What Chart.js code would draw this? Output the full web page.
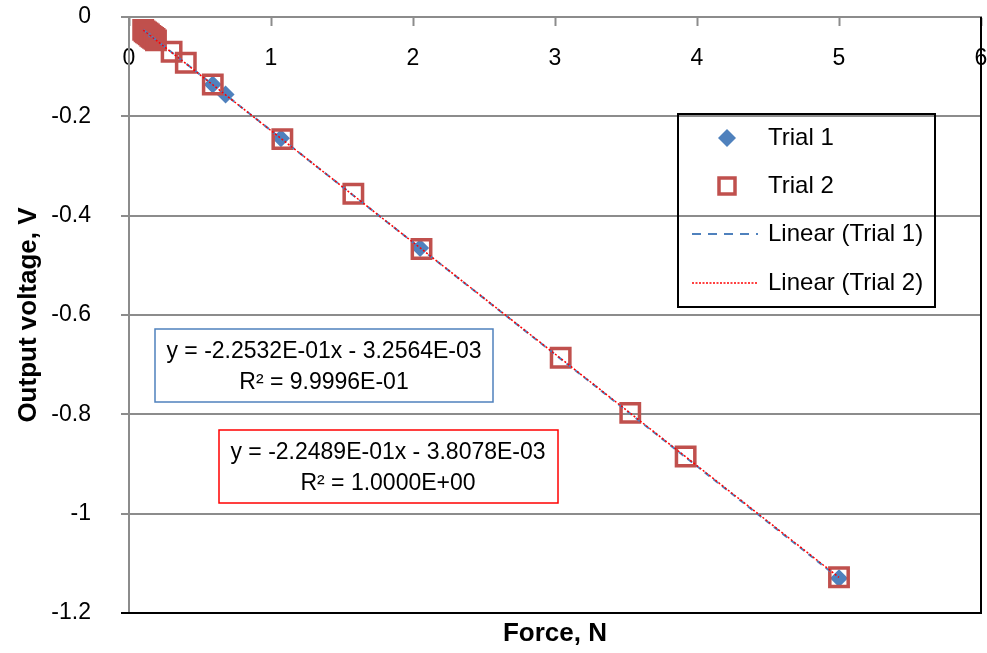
<!DOCTYPE html>
<html>
<head>
<meta charset="utf-8">
<script src="https://cdn.jsdelivr.net/npm/chart.js@4.4.1/dist/chart.umd.min.js"></script>
<style>
  html, body { margin: 0; padding: 0; background: #fff; }
  #wrap { width: 987px; height: 653px; }
</style>
</head>
<body>
<div id="wrap"><canvas id="js-chart-force" width="987" height="653"></canvas></div>
<script>
// Chart data
const trial1X = [0.10, 0.13, 0.16, 0.59, 0.68, 1.07, 2.05, 5.00];
const trial1Y = [-0.026, -0.033, -0.039, -0.136, -0.156, -0.244, -0.465, -1.130];
const trial2X = [0.10, 0.11, 0.12, 0.13, 0.14, 0.15, 0.16, 0.17, 0.18, 0.19, 0.30, 0.40, 0.59, 1.08, 1.58, 2.06, 3.04, 3.53, 3.92, 5.00];
const trial2Y = [-0.026, -0.029, -0.031, -0.033, -0.035, -0.038, -0.040, -0.042, -0.044, -0.047, -0.070, -0.092, -0.136, -0.246, -0.356, -0.467, -0.686, -0.797, -0.885, -1.128];
// trend line end points (from the fitted equations)
const trend1X = [0.10, 5.00];
const trend1Y = [-0.0258, -1.1299];
const trend2X = [0.10, 5.00];
const trend2Y = [-0.0263, -1.1283];
const xTicks = [0, 1, 2, 3, 4, 5, 6];
const yTicks = [0, -0.2, -0.4, -0.6, -0.8, -1, -1.2];
const seriesNames = ['Trial 1', 'Trial 2', 'Linear (Trial 1)', 'Linear (Trial 2)'];
const eq1 = ['y = -2.2532E-01x - 3.2564E-03', 'R\u00b2 = 9.9996E-01'];
const eq2 = ['y = -2.2489E-01x - 3.8078E-03', 'R\u00b2 = 1.0000E+00'];

const FONT = '"Liberation Sans", Arial, sans-serif';
const BLUE = '#4f81bd';
const RED = '#c0504d';
const GRID = '#8c8c8c';

function pts(xs, ys) {
  return xs.map((x, i) => ({x: x, y: ys[i]}));
}

// Legend + equation boxes + right/bottom plot border
const extrasPlugin = {
  id: 'extras',
  afterDatasetsDraw(chart) {
    const ctx = chart.ctx;
    const a = chart.chartArea;
    ctx.save();

    // black frame on right and bottom of plot area
    ctx.strokeStyle = '#000';
    ctx.lineWidth = 2;
    ctx.beginPath();
    ctx.moveTo(a.right, a.top);
    ctx.lineTo(a.right, a.bottom);
    ctx.lineTo(a.left - 8, a.bottom);
    ctx.stroke();

    // legend box
    ctx.lineWidth = 2;
    ctx.strokeRect(678, 114, 257, 193);
    ctx.font = '24px ' + FONT;
    ctx.fillStyle = '#000';
    ctx.textBaseline = 'middle';
    ctx.textAlign = 'left';
    const rows = [138, 186, 234, 283];
    const mx = 727;
    seriesNames.forEach((name, i) => ctx.fillText(name, 768, rows[i]));

    // diamond
    ctx.fillStyle = BLUE;
    ctx.beginPath();
    ctx.moveTo(mx, rows[0] - 9);
    ctx.lineTo(mx + 9, rows[0]);
    ctx.lineTo(mx, rows[0] + 9);
    ctx.lineTo(mx - 9, rows[0]);
    ctx.closePath();
    ctx.fill();
    // square
    ctx.strokeStyle = RED;
    ctx.lineWidth = 3.5;
    ctx.strokeRect(mx - 8, rows[1] - 8, 16, 16);
    // dashed
    ctx.strokeStyle = BLUE;
    ctx.lineWidth = 2;
    ctx.setLineDash([9, 7]);
    ctx.beginPath();
    ctx.moveTo(692, rows[2]);
    ctx.lineTo(758, rows[2]);
    ctx.stroke();
    // dotted
    ctx.strokeStyle = '#ff0000';
    ctx.lineWidth = 1.5;
    ctx.setLineDash([2, 1.5]);
    ctx.beginPath();
    ctx.moveTo(692, rows[3]);
    ctx.lineTo(758, rows[3]);
    ctx.stroke();
    ctx.setLineDash([]);

    // equation boxes
    ctx.font = '23px ' + FONT;
    ctx.textAlign = 'center';
    ctx.fillStyle = '#fff';
    ctx.fillRect(155, 329, 338, 73);
    ctx.fillRect(219, 430, 339, 73);
    ctx.lineWidth = 1.5;
    ctx.strokeStyle = BLUE;
    ctx.strokeRect(155, 329, 338, 73);
    ctx.strokeStyle = '#ff0000';
    ctx.strokeRect(219, 430, 339, 73);
    ctx.fillStyle = '#000';
    ctx.fillText(eq1[0], 324, 352);
    ctx.fillText(eq1[1], 324, 383);
    ctx.fillText(eq2[0], 388, 453);
    ctx.fillText(eq2[1], 388, 484);

    ctx.restore();
  }
};

const chartData = {
  datasets: [
    {
      label: seriesNames[0],
      data: pts(trial1X, trial1Y),
      pointStyle: 'rectRot',
      pointRadius: 9,
      pointBackgroundColor: BLUE,
      pointBorderColor: BLUE,
      pointBorderWidth: 0,
      showLine: false,
      order: 3
    },
    {
      label: seriesNames[1],
      data: pts(trial2X, trial2Y),
      pointStyle: 'rect',
      pointRadius: 13,
      pointBackgroundColor: 'rgba(0,0,0,0)',
      pointBorderColor: RED,
      pointBorderWidth: 3.5,
      showLine: false,
      order: 2
    },
    {
      label: seriesNames[2],
      data: pts(trend1X, trend1Y),
      showLine: true,
      borderColor: BLUE,
      borderWidth: 2,
      borderDash: [6, 5],
      pointRadius: 0,
      order: 1
    },
    {
      label: seriesNames[3],
      data: pts(trend2X, trend2Y),
      showLine: true,
      borderColor: '#ff0000',
      borderWidth: 1.5,
      borderDash: [2, 2],
      pointRadius: 0,
      order: 0
    }
  ]
};

// keep tick labels from pushing the plot area in
function noPadding(s) {
  s.paddingTop = 0;
  s.paddingBottom = 0;
  s.paddingLeft = 0;
  s.paddingRight = 0;
}

const chartOptions = {
  responsive: false,
  devicePixelRatio: 1,
  animation: false,
  layout: { autoPadding: false, padding: { top: 17, right: 6, left: 0, bottom: 0 } },
  plugins: { legend: { display: false }, tooltip: { enabled: false } },
  scales: {
    x: {
      type: 'linear',
      position: { y: 0 },
      min: 0,
      max: 6,
      afterBuildTicks: (s) => { s.ticks = xTicks.map(v => ({value: v})); },
      ticks: { color: '#000', font: { family: FONT, size: 23 }, padding: 20 },
      grid: { drawOnChartArea: false, drawTicks: true, tickLength: 8, tickColor: GRID, tickWidth: 2 },
      border: { color: GRID, width: 2 },
      afterFit: noPadding
    },
    xt: {
      type: 'linear',
      position: 'bottom',
      min: 0,
      max: 6,
      ticks: { display: false },
      grid: { display: false },
      border: { display: false },
      title: { display: true, text: 'Force, N', color: '#000', font: { family: FONT, size: 26, weight: 'bold' }, padding: { top: 0, bottom: 4 } },
      afterFit: (s) => { s.height = 40; noPadding(s); }
    },
    y: {
      type: 'linear',
      position: 'left',
      min: -1.2,
      max: 0,
      afterBuildTicks: (s) => { s.ticks = yTicks.map(v => ({value: v})); },
      ticks: {
        color: '#000',
        font: { family: FONT, size: 23 },
        padding: 30,
        callback: (v) => String(Number(Number(v).toFixed(1)))
      },
      grid: { color: GRID, lineWidth: 2, tickLength: 8 },
      border: { color: GRID, width: 2 },
      title: { display: true, text: 'Output voltage, V', color: '#000', font: { family: FONT, size: 26, weight: 'bold' }, padding: { top: 13, bottom: 0 } },
      afterFit: (s) => { s.width = 129; noPadding(s); }
    }
  }
};

new Chart(document.getElementById('js-chart-force'), {
  type: 'scatter',
  data: chartData,
  options: chartOptions,
  plugins: [extrasPlugin]
});
</script>
</body>
</html>
